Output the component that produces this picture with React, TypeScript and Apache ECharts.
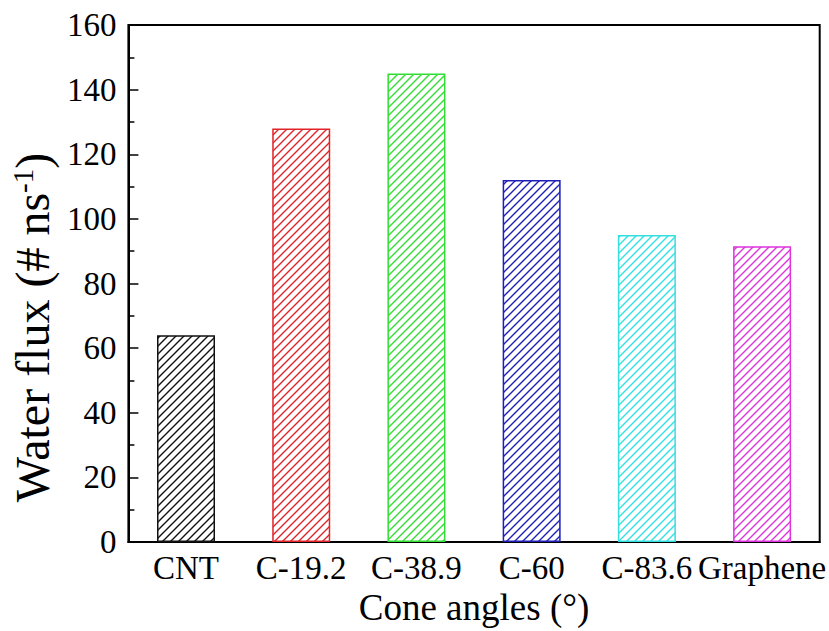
import React, { useEffect, useRef } from "react";
import * as echarts from "echarts";

const categories = ["CNT", "C-19.2", "C-38.9", "C-60", "C-83.6", "Graphene"];
const fluxValues = [64, 128, 145, 112, 95, 91.5];
const barColors = ["#111111", "#e0242a", "#33dd33", "#1e1eb8", "#33e0e0", "#dd33dd"];
const yTicks = [0, 20, 40, 60, 80, 100, 120, 140, 160];

function makeHatch(color: string) {
  const s = 8;
  const c = document.createElement("canvas");
  c.width = s;
  c.height = s;
  const ctx = c.getContext("2d")!;
  ctx.fillStyle = "#ffffff";
  ctx.fillRect(0, 0, s, s);
  ctx.strokeStyle = color;
  ctx.lineWidth = 1.4;
  ctx.beginPath();
  ctx.moveTo(-1, s + 1);
  ctx.lineTo(s + 1, -1);
  ctx.moveTo(-2, 2);
  ctx.lineTo(2, -2);
  ctx.moveTo(s - 2, s + 2);
  ctx.lineTo(s + 2, s - 2);
  ctx.stroke();
  return c;
}

export default function App() {
  const ref = useRef<HTMLDivElement>(null);
  useEffect(() => {
    if (!ref.current) return;
    document.body.style.margin = "0";
    const chart = echarts.init(ref.current, null, { renderer: "svg" });
    const font = "'Liberation Serif', 'Times New Roman', serif";
    chart.setOption({
      animation: false,
      backgroundColor: "#ffffff",
      grid: {
        left: 128,
        right: 7,
        top: 25,
        bottom: 89,
        show: true,
        borderColor: "#000",
        borderWidth: 2,
        backgroundColor: "transparent",
      },
      xAxis: {
        type: "category",
        data: categories,
        axisLine: { lineStyle: { color: "#000", width: 2 } },
        axisTick: { show: false },
        axisLabel: { color: "#000", fontSize: 33, fontFamily: font, margin: 9, interval: 0 },
        name: "Cone angles (°)",
        nameLocation: "middle",
        nameGap: 44,
        nameTextStyle: { color: "#000", fontSize: 37, fontFamily: font },
      },
      yAxis: {
        type: "value",
        min: yTicks[0],
        max: yTicks[yTicks.length - 1],
        interval: 20,
        axisLine: { show: true, lineStyle: { color: "#000", width: 2 } },
        axisTick: { show: true, inside: true, length: 10, lineStyle: { color: "#000", width: 1.5 } },
        minorTick: { show: true, splitNumber: 2, length: 6, lineStyle: { color: "#000", width: 1.5 } },
        splitLine: { show: false },
        axisLabel: { color: "#000", fontSize: 33, fontFamily: font, margin: 12 },
        name: "{a|Water flux (# ns}{s|-1}{a|)}",
        nameLocation: "middle",
        nameRotate: 90,
        nameGap: 62,
        nameTextStyle: {
          color: "#000",
          fontFamily: font,
          padding: [0, 88, 0, 0],
          rich: {
            a: { fontSize: 48, fontFamily: font, color: "#000" },
            s: { fontSize: 29, fontFamily: font, color: "#000", verticalAlign: "top" },
          },
        },
      },
      series: [
        {
          type: "bar",
          barWidth: 58,
          data: fluxValues.map((v, i) => ({
            value: v,
            itemStyle: {
              color: { image: makeHatch(barColors[i]), repeat: "repeat" },
              borderColor: barColors[i],
              borderWidth: 1.5,
            },
          })),
        },
      ],
    });
    return () => chart.dispose();
  }, []);
  return <div ref={ref} style={{ width: 829, height: 631 }} />;
}
